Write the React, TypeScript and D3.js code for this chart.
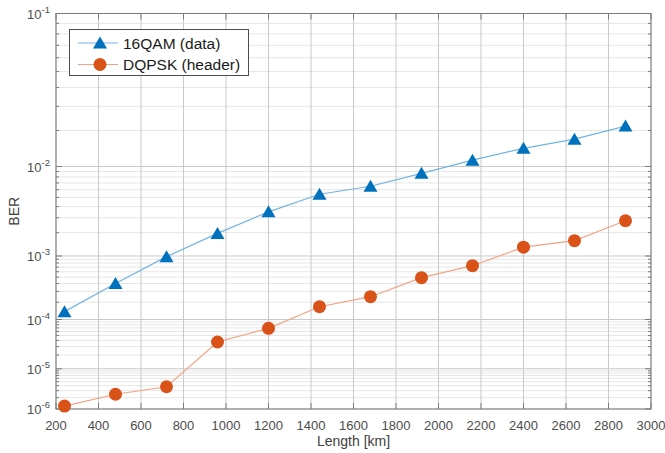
import React, { useRef, useEffect } from "react";
import * as d3 from "d3";

// data
const lengths = [240, 480, 720, 960, 1200, 1440, 1680, 1920, 2160, 2400, 2640, 2880];
const berQam = [1.38e-4, 4.0e-4, 9.8e-4, 1.96e-3, 3.5e-3, 5.4e-3, 6.5e-3, 8.65e-3, 1.14e-2, 1.44e-2, 1.71e-2, 2.16e-2];
const berDqpsk = [1.2e-6, 2.44e-6, 3.76e-6, 3.72e-5, 6.87e-5, 1.68e-4, 2.47e-4, 4.9e-4, 7.33e-4, 1.31e-3, 1.59e-3, 2.77e-3];
const xTicks = d3.range(200, 3001, 200);
const yExps = [1, 2, 3, 4, 5, 6];
const legendLabels = ["16QAM (data)", "DQPSK (header)"];

const W = 665;
const H = 453;

const App = () => {
  const d3Container = useRef<SVGSVGElement | null>(null);

  useEffect(() => {
    if (!d3Container.current) return;
    const svg = d3.select(d3Container.current);
    svg.selectAll("*").remove();

    const left = 56;
    const right = 651;
    const top = 13.5;
    const bottom = 409;
    const font = "'Liberation Sans', Arial, sans-serif";

    const x = d3.scaleLinear().domain([200, 3000]).range([left, right]);
    // BER axis: log of -log10(BER)
    const yq = d3.scaleLog().domain([1, 6]).range([top, bottom]);
    const y = (v: number) => yq(-Math.log10(v));

    // minor grid
    const minor: number[] = [];
    for (let e = 2; e <= 6; e++) {
      for (let k = 2; k <= 9; k++) minor.push(k * Math.pow(10, -e));
    }
    svg.append("g")
      .selectAll("line")
      .data(minor)
      .enter()
      .append("line")
      .attr("x1", left)
      .attr("x2", right)
      .attr("y1", (d) => y(d))
      .attr("y2", (d) => y(d))
      .attr("stroke", "#e6e6e6")
      .attr("stroke-width", 1);

    // major grid
    svg.append("g")
      .selectAll("line")
      .data(yExps)
      .enter()
      .append("line")
      .attr("x1", left)
      .attr("x2", right)
      .attr("y1", (d) => yq(d))
      .attr("y2", (d) => yq(d))
      .attr("stroke", "#c9c9c9")
      .attr("stroke-width", 1);
    svg.append("g")
      .selectAll("line")
      .data(xTicks)
      .enter()
      .append("line")
      .attr("x1", (d) => x(d))
      .attr("x2", (d) => x(d))
      .attr("y1", top)
      .attr("y2", bottom)
      .attr("stroke", "#c9c9c9")
      .attr("stroke-width", 1);

    // box
    svg.append("rect")
      .attr("x", left)
      .attr("y", top)
      .attr("width", right - left)
      .attr("height", bottom - top)
      .attr("fill", "none")
      .attr("stroke", "#7a7a7a")
      .attr("stroke-width", 1);

    // ticks (inside)
    const tk = svg.append("g").attr("stroke", "#7a7a7a");
    xTicks.forEach((t) => {
      tk.append("line").attr("x1", x(t)).attr("x2", x(t)).attr("y1", bottom).attr("y2", bottom - 6);
      tk.append("line").attr("x1", x(t)).attr("x2", x(t)).attr("y1", top).attr("y2", top + 6);
    });
    yExps.forEach((e) => {
      tk.append("line").attr("x1", left).attr("x2", left + 6).attr("y1", yq(e)).attr("y2", yq(e));
      tk.append("line").attr("x1", right).attr("x2", right - 6).attr("y1", yq(e)).attr("y2", yq(e));
    });
    minor.forEach((m) => {
      tk.append("line").attr("x1", left).attr("x2", left + 3).attr("y1", y(m)).attr("y2", y(m));
      tk.append("line").attr("x1", right).attr("x2", right - 3).attr("y1", y(m)).attr("y2", y(m));
    });

    // x tick labels
    svg.append("g")
      .selectAll("text")
      .data(xTicks)
      .enter()
      .append("text")
      .attr("x", (d) => x(d))
      .attr("y", 430)
      .attr("text-anchor", "middle")
      .attr("font-family", font)
      .attr("font-size", 13)
      .attr("fill", "#4d4d4d")
      .text((d) => d);

    // y tick labels 10^-n
    yExps.forEach((e) => {
      const t = svg.append("text")
        .attr("x", 50)
        .attr("y", yq(e) + 5)
        .attr("text-anchor", "end")
        .attr("font-family", font)
        .attr("font-size", 13)
        .attr("fill", "#4d4d4d");
      t.append("tspan").text("10");
      t.append("tspan").attr("dy", -6).attr("font-size", 9.5).text("-" + e);
    });

    // axis titles
    svg.append("text")
      .attr("x", (left + right) / 2)
      .attr("y", 446)
      .attr("text-anchor", "middle")
      .attr("font-family", font)
      .attr("font-size", 14)
      .attr("fill", "#404040")
      .text("Length [km]");
    svg.append("text")
      .attr("transform", "translate(19," + (top + bottom) / 2 + ") rotate(-90)")
      .attr("text-anchor", "middle")
      .attr("font-family", font)
      .attr("font-size", 14)
      .attr("fill", "#404040")
      .text("BER");

    const tri = "M0,-6.5L7,5.5L-7,5.5Z";
    const series = [
      { vals: berQam, line: "#72b4e3", mark: "#0072bd", shape: "tri" },
      { vals: berDqpsk, line: "#f2a384", mark: "#d95319", shape: "circle" },
    ];

    const lineGen = d3.line<number>()
      .x((d, i) => x(lengths[i]))
      .y((d) => y(d));

    series.forEach((s) => {
      svg.append("path")
        .attr("d", lineGen(s.vals))
        .attr("fill", "none")
        .attr("stroke", s.line)
        .attr("stroke-width", 1.2);
      const g = svg.append("g");
      if (s.shape === "tri") {
        g.selectAll("path")
          .data(s.vals)
          .enter()
          .append("path")
          .attr("d", tri)
          .attr("transform", (d, i) => "translate(" + x(lengths[i]) + "," + y(d) + ")")
          .attr("fill", s.mark);
      } else {
        g.selectAll("circle")
          .data(s.vals)
          .enter()
          .append("circle")
          .attr("cx", (d, i) => x(lengths[i]))
          .attr("cy", (d) => y(d))
          .attr("r", 6.5)
          .attr("fill", s.mark);
      }
    });

    // legend
    const lg = svg.append("g");
    lg.append("rect")
      .attr("x", 69.5)
      .attr("y", 29.5)
      .attr("width", 179)
      .attr("height", 46)
      .attr("fill", "#ffffff")
      .attr("stroke", "#4d4d4d")
      .attr("stroke-width", 1);
    series.forEach((s, i) => {
      const cy = 43 + i * 21.5;
      lg.append("line")
        .attr("x1", 78)
        .attr("x2", 118)
        .attr("y1", cy)
        .attr("y2", cy)
        .attr("stroke", s.line)
        .attr("stroke-width", 1.2);
      if (s.shape === "tri") {
        lg.append("path").attr("d", tri).attr("transform", "translate(100," + cy + ")").attr("fill", s.mark);
      } else {
        lg.append("circle").attr("cx", 100).attr("cy", cy).attr("r", 6.5).attr("fill", s.mark);
      }
      lg.append("text")
        .attr("x", 123)
        .attr("y", cy + 5.5)
        .attr("font-family", font)
        .attr("font-size", 15.5)
        .attr("fill", "#1a1a1a")
        .text(legendLabels[i]);
    });
  }, []);

  return (
    <svg
      ref={d3Container}
      width={W}
      height={H}
      style={{ position: "absolute", left: 0, top: 0, background: "#fff" }}
    />
  );
};

export default App;
